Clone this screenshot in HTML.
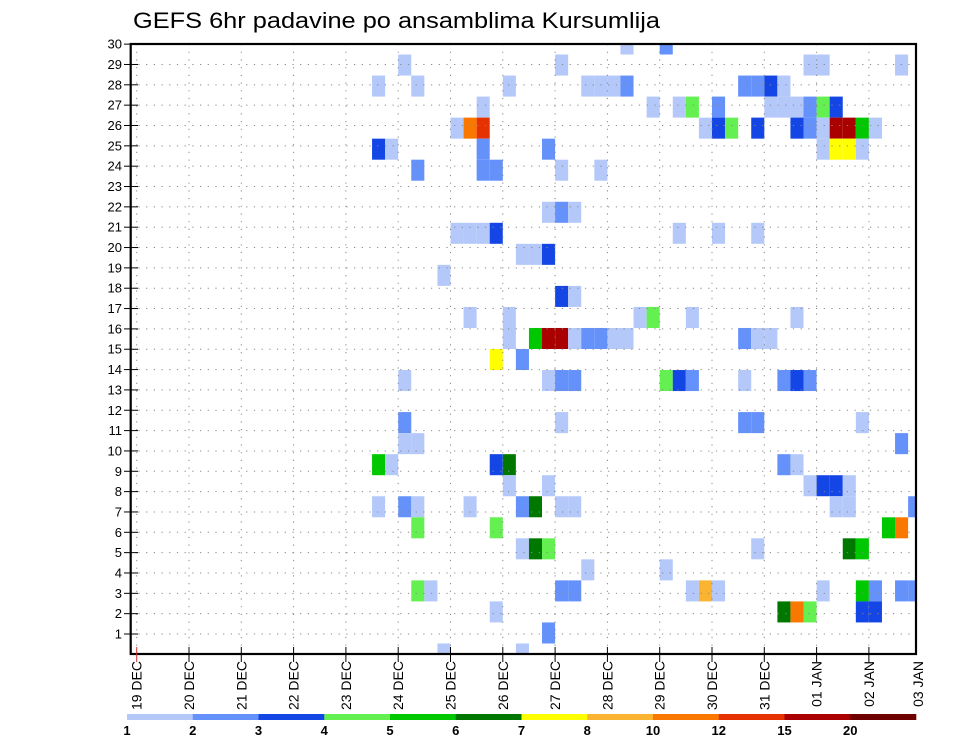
<!DOCTYPE html>
<html>
<head>
<meta charset="utf-8">
<style>
html,body{margin:0;padding:0;background:#fff;}
svg{display:block;font-family:"Liberation Sans",sans-serif;}
</style>
</head>
<body>
<svg id="chart" width="960" height="742" viewBox="0 0 960 742" xmlns="http://www.w3.org/2000/svg">
  <rect x="0" y="0" width="960" height="742" fill="#fff"/>
  <text x="133" y="28" font-size="22" textLength="527" lengthAdjust="spacingAndGlyphs" fill="#000">GEFS 6hr padavine po ansamblima Kursumlija</text>
  <defs><clipPath id="plotclip"><rect x="130.7" y="44" width="785.3" height="610"/></clipPath></defs>
  <g id="cells" clip-path="url(#plotclip)"></g>
  <g id="grid"></g>
  <g id="axes"></g>
  <g id="colorbar"></g>
</svg>
<script>
// ---- data ----
const dayLabels = ["19 DEC","20 DEC","21 DEC","22 DEC","23 DEC","24 DEC","25 DEC","26 DEC","27 DEC","28 DEC","29 DEC","30 DEC","31 DEC","01 JAN","02 JAN","03 JAN"];
const memberLabels = [1,2,3,4,5,6,7,8,9,10,11,12,13,14,15,16,17,18,19,20,21,22,23,24,25,26,27,28,29,30];
const levels = [1,2,3,4,5,6,7,8,10,12,15,20];
const levelColors = ["rgb(180,200,250)","rgb(100,145,250)","rgb(20,70,230)","rgb(100,240,80)","rgb(0,200,0)","rgb(0,120,0)","rgb(255,255,0)","rgb(250,180,50)","rgb(250,120,0)","rgb(230,50,0)","rgb(170,0,0)","rgb(110,0,0)"];

// cell: ensemble member row index (0 = bottom), 6-hour step index from 19 DEC 00z, precipitation (mm)
const cellMember = [
29,29,
28,28,28,28,28,
27,27,27,27,27,27,27,27,27,27,27,
26,26,26,26,26,26,26,26,26,26,26,
25,25,25,25,25,25,25,25,25,25,25,25,25,25,
24,24,24,24,24,24,24,24,
23,23,23,23,23,
21,21,21,
20,20,20,20,20,20,20,
19,19,19,
18,
17,17,
16,16,16,16,16,16,
15,15,15,15,15,15,15,15,15,15,15,15,
14,14,
13,13,13,13,13,13,13,13,13,13,13,
11,11,11,11,11,
10,10,10,
9,9,9,9,9,9,
8,8,8,8,8,8,
7,7,7,7,7,7,7,7,7,7,7,
6,6,6,6,
5,5,5,5,5,5,
4,4,
3,3,3,3,3,3,3,3,3,3,3,3,
2,2,2,2,2,2,
1,
0,0];
const cellStep = [
37,40,
20,32,51,52,58,
18,21,28,34,35,36,37,46,47,48,49,
26,39,41,42,44,48,49,50,51,52,53,
24,25,26,43,44,45,47,50,51,52,53,54,55,56,
18,19,26,31,52,53,54,55,
21,26,27,32,35,
31,32,33,
24,25,26,27,41,44,47,
29,30,31,
23,
32,33,
25,28,38,39,42,50,
28,30,31,32,33,34,35,36,37,46,47,48,
27,29,
20,31,32,33,40,41,42,46,49,50,51,
20,32,46,47,55,
20,21,58,
18,19,27,28,49,50,
28,31,51,52,53,54,
18,20,21,25,29,30,32,33,53,54,59,
21,27,57,58,
29,30,31,47,54,55,
34,40,
21,22,32,33,42,43,44,52,55,56,58,59,
27,49,50,51,55,56,
31,
23,29];
const cellPrecip = [
1.5,2.5,
1.5,1.5,1.5,1.5,1.5,
1.5,1.5,1.5,1.5,1.5,1.5,2.5,2.5,2.5,3.5,1.5,
1.5,1.5,1.5,4.5,2.5,1.5,1.5,1.5,2.5,4.5,3.5,
1.5,11,13.5,1.5,3.5,4.5,3.5,3.5,2.5,1.5,17.5,17.5,5.5,1.5,
3.5,1.5,2.5,2.5,1.5,7.5,7.5,1.5,
2.5,2.5,2.5,1.5,1.5,
1.5,2.5,1.5,
1.5,1.5,1.5,3.5,1.5,1.5,1.5,
1.5,1.5,3.5,
1.5,
3.5,1.5,
1.5,1.5,1.5,4.5,1.5,1.5,
1.5,5.5,17.5,17.5,1.5,2.5,2.5,1.5,1.5,2.5,1.5,1.5,
7.5,2.5,
1.5,1.5,2.5,2.5,4.5,3.5,2.5,1.5,2.5,3.5,2.5,
2.5,1.5,2.5,2.5,1.5,
1.5,1.5,2.5,
5.5,1.5,3.5,6.5,2.5,1.5,
1.5,1.5,1.5,3.5,3.5,1.5,
1.5,2.5,1.5,1.5,2.5,6.5,1.5,1.5,1.5,1.5,2.5,
4.5,4.5,5.5,11,
1.5,6.5,4.5,1.5,6.5,5.5,
1.5,1.5,
4.5,1.5,2.5,2.5,1.5,9,1.5,1.5,5.5,2.5,2.5,2.5,
1.5,6.5,11,4.5,3.5,3.5,
2.5,
1.5,1.5];

// ---- geometry / scales ----
const NS = "http://www.w3.org/2000/svg";
const PL = 130.7, PR = 916, PT = 44, PB = 654;
const DAY0X = 136.7, DAYW = 52.3;
const STEPW = DAYW / 4;
const CELLH = (PB - PT) / 29;
function xDay(d){ return DAY0X + d * DAYW; }
function xStep(s){ return DAY0X + s * STEPW; }
function yCell(m){ return PB - m * CELLH; }           // cell centre
function yLabel(n){ return 634 - (n - 1) * 20.34; }   // member axis label
function colorFor(v){
  let idx = -1;
  for (let i = 0; i < levels.length; i++) if (v >= levels[i]) idx = i;
  return idx < 0 ? null : levelColors[idx];
}
function mk(tag, attrs, parent){
  const e = document.createElementNS(NS, tag);
  for (const k in attrs) e.setAttribute(k, attrs[k]);
  parent.appendChild(e);
  return e;
}

// ---- cells ----
const gCells = document.getElementById("cells");
for (let i = 0; i < cellMember.length; i++) {
  const c = colorFor(cellPrecip[i]);
  if (!c) continue;
  const r = mk("rect", {x: xStep(cellStep[i]).toFixed(2), y: (yCell(cellMember[i]) - CELLH/2).toFixed(2),
    width: STEPW.toFixed(2), height: CELLH.toFixed(2), fill: c}, gCells);
  
  
}

// ---- grid ----
const gGrid = document.getElementById("grid");
for (let d = 0; d < dayLabels.length; d++) {
  const x = xDay(d);
  if (x > PR) continue;
  const l = mk("line", {x1: x, y1: PT, x2: x, y2: PB, stroke: "#888", "stroke-width": 1, "stroke-dasharray": "1.2,6.5"}, gGrid);
  
  
}
for (let n = 1; n <= memberLabels.length; n++) {
  const y = yLabel(memberLabels[n-1]);
  const l = mk("line", {x1: PL, y1: y, x2: PR, y2: y, stroke: "#888", "stroke-width": 1, "stroke-dasharray": "1.2,6.5"}, gGrid);
  
  
}

// ---- axes ----
const gAx = document.getElementById("axes");
const frame = mk("rect", {x: PL, y: PT, width: PR - PL, height: PB - PT, fill: "none", stroke: "#000", "stroke-width": 2.2}, gAx);


for (let n = 0; n < memberLabels.length; n++) {
  const y = yLabel(memberLabels[n]);
  const t = mk("line", {x1: 124, y1: y, x2: 138, y2: y, stroke: "#000", "stroke-width": 1}, gAx);
  
  
  const tx = mk("text", {x: 122, y: y + 4.5, "font-size": 13, "text-anchor": "end", fill: "#000"}, gAx);
  tx.textContent = memberLabels[n];
  
  
}
for (let d = 0; d < dayLabels.length; d++) {
  const x = xDay(d);
  if (x <= PR) {
    const t = mk("line", {x1: x, y1: 647, x2: x, y2: 662, stroke: d === 0 ? "#c33" : "#000", "stroke-width": 1}, gAx);
    
    
  }
  const lx = Math.min(x, 918) + 5;
  const tx = mk("text", {x: 0, y: 0, "font-size": 14, "text-anchor": "end", fill: "#000",
    transform: "translate(" + lx.toFixed(1) + ",661) rotate(-90)"}, gAx);
  tx.textContent = dayLabels[d];
  
  
}

// ---- colorbar ----
const gCb = document.getElementById("colorbar");
const CB0 = 127, CBW = (916 - 127) / levels.length;
for (let i = 0; i < levels.length; i++) {
  const r = mk("rect", {x: (CB0 + i*CBW).toFixed(2), y: 714, width: (CBW + 0.3).toFixed(2), height: 6, fill: levelColors[i]}, gCb);
  
  
  const t = mk("text", {x: (CB0 + i*CBW).toFixed(2), y: 735, "font-size": 13, "font-weight": "bold", "text-anchor": "middle", fill: "#000"}, gCb);
  t.textContent = levels[i];
  
  
}
</script>
</body>
</html>
